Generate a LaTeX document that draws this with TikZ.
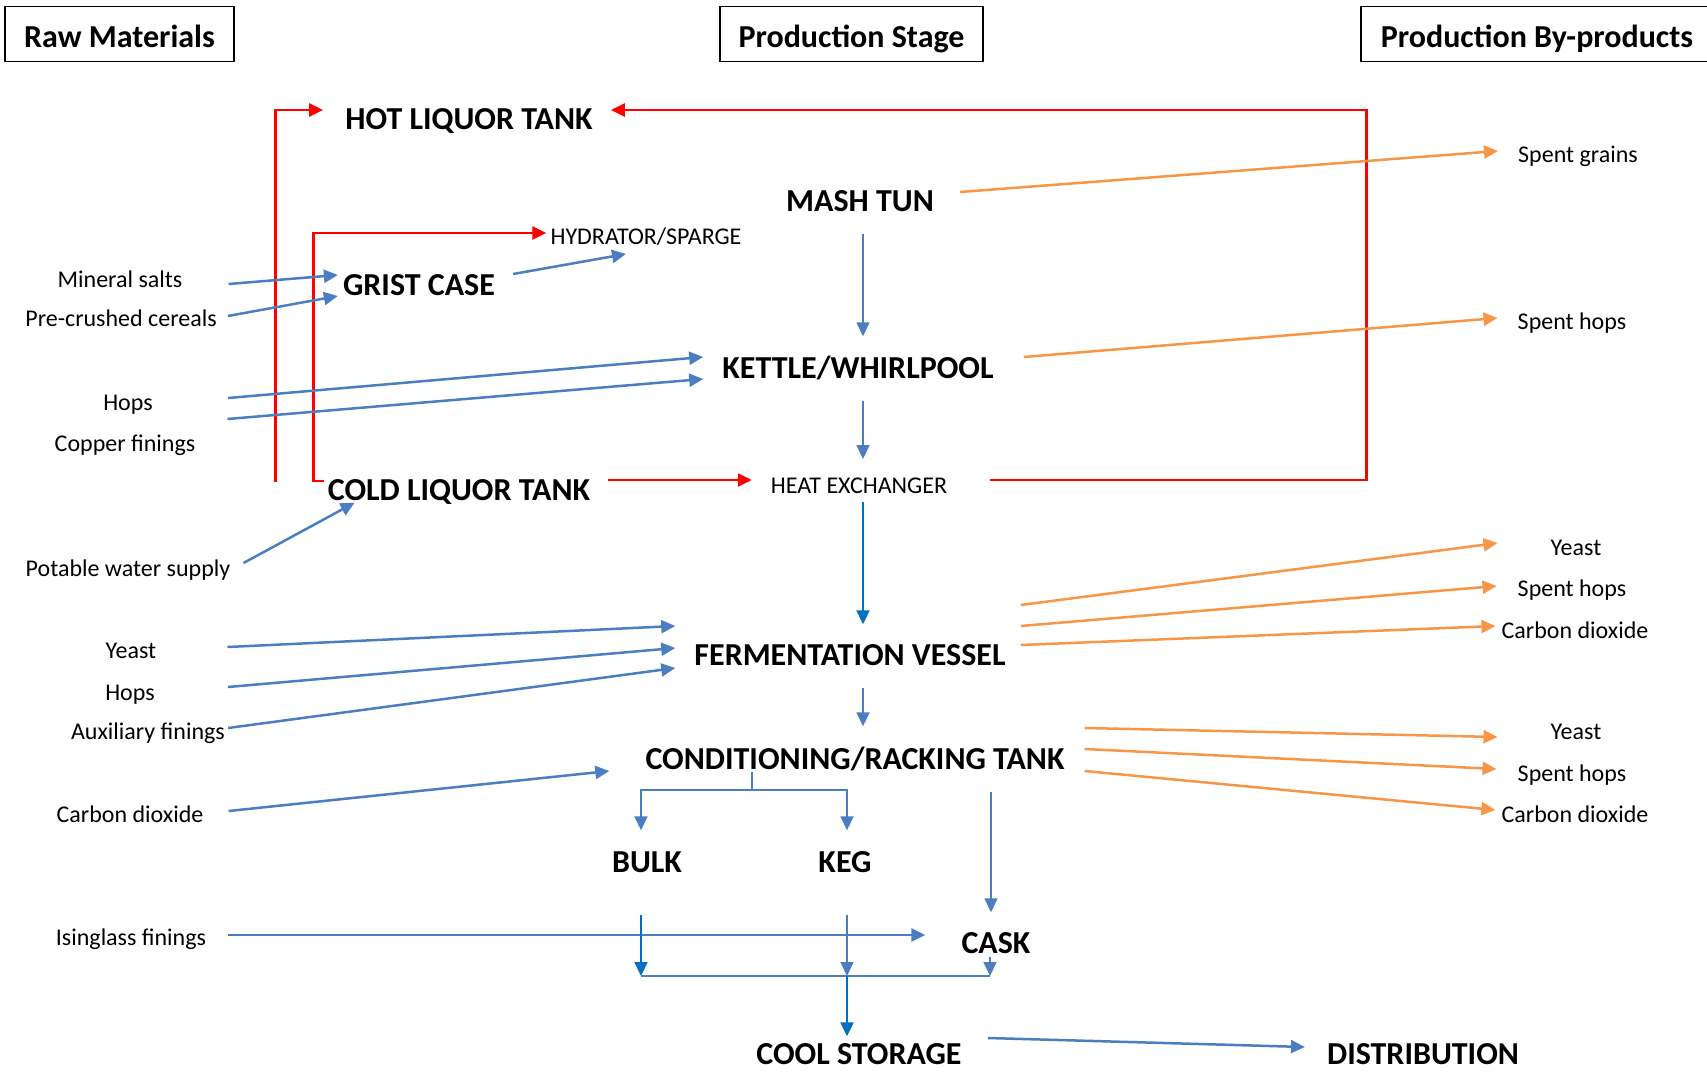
\documentclass[tikz,border=0pt]{standalone}
\usepackage{fontspec}
\setmainfont{Carlito}
\usetikzlibrary{arrows.meta}

\definecolor{flowblue}{RGB}{74,126,193}
\definecolor{deepblue}{RGB}{0,112,192}
\definecolor{byorange}{RGB}{247,150,70}
\definecolor{hotred}{RGB}{255,0,0}

\begin{document}
\begin{tikzpicture}[
  x=1pt, y=-1pt,
  stage/.style={inner sep=0pt, font=\fontsize{32}{38}\selectfont\bfseries, text height=21pt, text depth=0pt},
  small/.style={inner sep=0pt, font=\fontsize{24}{29}\selectfont, text height=15.5pt, text depth=0pt},
  hdr/.style={draw, line width=1.5pt, inner sep=0pt, font=\fontsize{32}{38}\selectfont\bfseries, minimum height=55pt, text height=27pt, text depth=0pt},
  tip/.style={-{Triangle[length=14pt,width=13pt]}},
  flow/.style={draw=flowblue, line width=2.5pt, tip},
  thinflow/.style={draw=flowblue, line width=1.6pt, tip},
  deepflow/.style={draw=deepblue, line width=2pt, tip},
  byflow/.style={draw=byorange, line width=2.5pt, tip},
  hotflow/.style={draw=hotred, line width=2.5pt, tip}
]
  \path[use as bounding box, fill=white] (0,0) rectangle (1707,1073);

  \node[hdr, minimum width=229pt] (rawhdr) at (119.5,34) {Raw Materials};
  \node[hdr, minimum width=263pt] (stagehdr) at (851.5,34) {Production Stage};
  \node[hdr, minimum width=352pt] (byhdr) at (1537,34) {Production By-products};

  \node[stage] (hot) at (469,119) {HOT LIQUOR TANK};
  \node[stage] (mash) at (860,201) {MASH TUN};
  \node[small] (hydr) at (646,237) {HYDRATOR/SPARGE};
  \node[stage] (grist) at (419,285) {GRIST CASE};
  \node[stage] (kettle) at (858,368) {KETTLE/WHIRLPOOL};
  \node[small] (heat) at (859,486) {HEAT EXCHANGER};
  \node[stage] (cold) at (459,490) {COLD LIQUOR TANK};
  \node[stage] (ferm) at (850,655) {FERMENTATION VESSEL};
  \node[stage] (cond) at (855,759) {CONDITIONING/RACKING TANK};
  \node[stage] (bulk) at (647,862) {BULK};
  \node[stage] (keg) at (845,862) {KEG};
  \node[stage] (cask) at (996,943) {CASK};
  \node[stage] (cool) at (859,1054) {COOL STORAGE};
  \node[stage] (dist) at (1423,1054) {DISTRIBUTION};

  \node[small] (minsalt) at (120,280) {Mineral salts};
  \node[small] (cereals) at (121,319) {Pre-crushed cereals};
  \node[small] (hopsa) at (128,403) {Hops};
  \node[small] (copper) at (125,444) {Copper finings};
  \node[small] (water) at (128,569) {Potable water supply};
  \node[small] (yeasta) at (131,651) {Yeast};
  \node[small] (hopsb) at (130,693) {Hops};
  \node[small] (auxfin) at (148,732) {Auxiliary finings};
  \node[small] (codioxa) at (130,815) {Carbon dioxide};
  \node[small] (isinglass) at (131,938) {Isinglass finings};

  \node[small] (sgrains) at (1578,155) {Spent grains};
  \node[small] (shopsa) at (1572,322) {Spent hops};
  \node[small] (yeastb) at (1576,548) {Yeast};
  \node[small] (shopsb) at (1572,589) {Spent hops};
  \node[small] (codioxb) at (1575,631) {Carbon dioxide};
  \node[small] (yeastc) at (1576,732) {Yeast};
  \node[small] (shopsc) at (1572,774) {Spent hops};
  \node[small] (codioxc) at (1575,815) {Carbon dioxide};

  \draw[hotflow] ([xshift=-52pt,yshift=8pt]cold.west) |- ([xshift=-22pt,yshift=9pt]hot.west);
  \draw[hotflow] ([xshift=-4pt,yshift=9pt]cold.west) -- ++(-10,0) |- ([xshift=-4pt,yshift=4pt]hydr.west);
  \draw[hotflow] ([xshift=18pt,yshift=10pt]cold.east) -- ([xshift=-19pt,yshift=6pt]heat.west);
  \draw[hotflow] ([xshift=43pt,yshift=6pt]heat.east) -- ++(376,0) |- ([xshift=18pt,yshift=9pt]hot.east);

  \draw[flow] ([xshift=46pt,yshift=-4pt]minsalt.east) -- ([xshift=-5pt,yshift=10pt]grist.west);
  \draw[flow] ([xshift=11pt,yshift=3pt]cereals.east) -- ([xshift=-5pt,yshift=-11pt]grist.west);
  \draw[flow] ([xshift=18pt,yshift=11pt]grist.east) -- ([xshift=-20pt,yshift=-9pt]hydr.south);
  \draw[thinflow] ([xshift=3pt,yshift=-22pt]mash.south) -- ([xshift=5pt,yshift=21pt]kettle.north);
  \draw[flow] ([xshift=75pt,yshift=5pt]hopsa.east) -- ([xshift=-19pt,yshift=11pt]kettle.west);
  \draw[flow] ([xshift=32pt,yshift=25pt]copper.east) -- ([xshift=-19pt,yshift=-11pt]kettle.west);
  \draw[thinflow] ([xshift=5pt,yshift=-22pt]kettle.south) -- ([xshift=4pt,yshift=19pt]heat.north);
  \draw[deepflow] ([xshift=4pt,yshift=-8pt]heat.south) -- ([xshift=13pt,yshift=20pt]ferm.north);
  \draw[flow] ([xshift=13pt,yshift=6pt]water.east) -- ([xshift=27pt,yshift=-2pt]cold.south west);
  \draw[flow] ([xshift=71pt,yshift=4pt]yeasta.east) -- ([xshift=-19pt,yshift=29pt]ferm.west);
  \draw[flow] ([xshift=73pt,yshift=6pt]hopsb.east) -- ([xshift=-19pt,yshift=7pt]ferm.west);
  \draw[flow] ([xshift=3pt,yshift=4pt]auxfin.east) -- ([xshift=-19pt,yshift=-13pt]ferm.west);
  \draw[thinflow] ([xshift=13pt,yshift=-22pt]ferm.south) -- ([xshift=8pt,yshift=22pt]cond.north);
  \draw[flow] ([xshift=25pt,yshift=4pt]codioxa.east) -- ([xshift=-36pt,yshift=-12pt]cond.west);

  \draw[thinflow, -] ([xshift=-103pt,yshift=-2pt]cond.south) -- ++(0,18) coordinate (split);
  \draw[thinflow] (split) -| ([xshift=-6pt,yshift=21pt]bulk.north);
  \draw[thinflow] (split) -| ([xshift=2pt,yshift=21pt]keg.north);
  \draw[thinflow] ([xshift=136pt,yshift=-22pt]cond.south) -- ([xshift=-5pt,yshift=20pt]cask.north);
  \draw[flow] ([xshift=22pt,yshift=3pt]isinglass.east) -- ([xshift=-36pt,yshift=8pt]cask.west);

  \coordinate (bus) at (847,976);
  \coordinate (bulkdrop) at ([xshift=-6pt,yshift=-42pt]bulk.south);
  \coordinate (kegdrop) at ([xshift=2pt,yshift=-42pt]keg.south);
  \coordinate (caskdrop) at ([xshift=-6pt,yshift=-3pt]cask.south);
  \draw[deepflow] (bulkdrop) -- (bulkdrop |- bus);
  \draw[thinflow] (kegdrop) -- (kegdrop |- bus);
  \draw[thinflow] (caskdrop) -- (caskdrop |- bus);
  \draw[thinflow, -] (bulkdrop |- bus) -- (caskdrop |- bus);
  \draw[deepflow] (bus) -- ([xshift=-12pt,yshift=7pt]cool.north);
  \draw[flow] ([xshift=26pt,yshift=16pt]cool.east) -- ([xshift=-22pt,yshift=7pt]dist.west);

  \draw[byflow] ([xshift=26pt,yshift=9pt]mash.east) -- ([xshift=-20pt,yshift=4pt]sgrains.west);
  \draw[byflow] ([xshift=30pt,yshift=11pt]kettle.east) -- ([xshift=-20pt,yshift=4pt]shopsa.west);
  \draw[byflow] ([xshift=15pt,yshift=50pt]ferm.east) -- ([xshift=-53pt,yshift=5pt]yeastb.west);
  \draw[byflow] ([xshift=15pt,yshift=29pt]ferm.east) -- ([xshift=-21pt,yshift=3pt]shopsb.west);
  \draw[byflow] ([xshift=15pt,yshift=10pt]ferm.east) -- ([xshift=-6pt,yshift=5pt]codioxb.west);
  \draw[byflow] ([xshift=20pt,yshift=31pt]cond.east) -- ([xshift=-53pt,yshift=-5pt]yeastc.west);
  \draw[byflow] ([xshift=20pt,yshift=10pt]cond.east) -- ([xshift=-21pt,yshift=5pt]shopsc.west);
  \draw[byflow] ([xshift=20pt,yshift=-12pt]cond.east) -- ([xshift=-6pt,yshift=5pt]codioxc.west);
\end{tikzpicture}
\end{document}
